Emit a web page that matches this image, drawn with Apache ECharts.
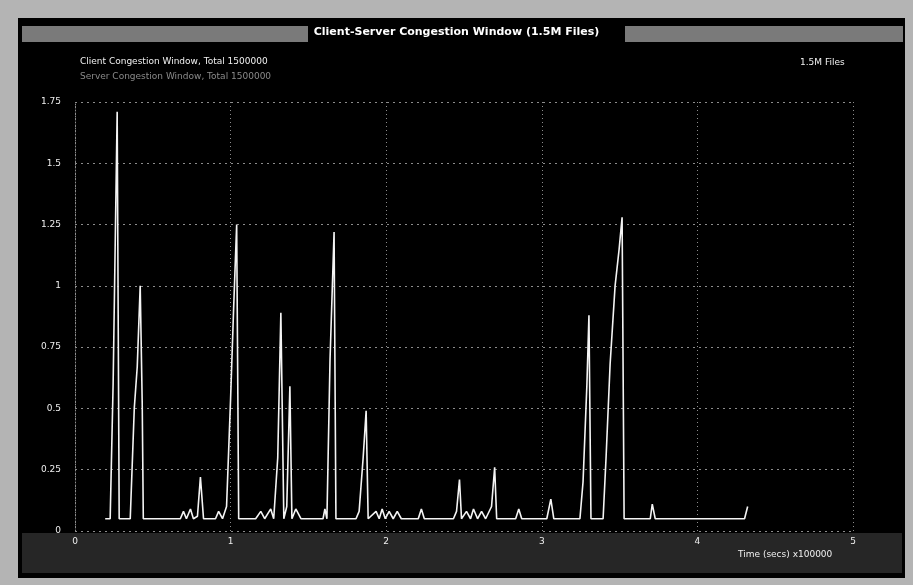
<!DOCTYPE html>
<html>
<head>
<meta charset="utf-8">
<script src="https://cdn.jsdelivr.net/npm/echarts@6/dist/echarts.min.js"></script>
<style>
html,body{margin:0;padding:0;background:#b4b4b4;}
#c{width:913px;height:585px;}
</style>
</head>
<body>
<div id="c"></div>
<script>
var titleText = 'Client-Server Congestion Window (1.5M Files)';
var legendLine1 = 'Client Congestion Window, Total 1500000';
var legendLine2 = 'Server Congestion Window, Total 1500000';
var fileLabel = '1.5M Files';
var xAxisTitle = 'Time (secs) x100000';
var xTicks = [0, 1, 2, 3, 4, 5];
var yTicks = [0, 0.25, 0.5, 0.75, 1, 1.25, 1.5, 1.75];

// time (x100000 s)
var timeValues = [
0.194,0.226,0.245,0.271,0.284,0.355,0.381,0.400,0.419,0.432,0.439,
0.677,0.697,0.716,0.742,0.761,0.787,0.806,0.826,
0.903,0.923,0.948,0.974,1.000,1.019,1.039,1.052,
1.161,1.194,1.219,1.258,1.277,1.303,1.323,1.342,1.361,1.381,1.394,1.419,1.452,
1.594,1.606,1.619,1.639,1.665,1.677,
1.806,1.826,1.852,1.871,1.884,1.935,1.955,1.974,1.994,2.019,2.045,2.071,2.097,
2.206,2.226,2.245,
2.432,2.452,2.471,2.484,2.516,2.542,2.561,2.587,2.613,2.639,2.677,2.697,2.710,
2.832,2.852,2.871,
3.032,3.058,3.077,
3.245,3.265,3.290,3.303,3.316,3.394,3.413,3.439,3.471,3.497,3.516,3.529,
3.697,3.710,3.729,
4.303,4.323
];
// congestion window
var cwndValues = [
0.05,0.05,0.60,1.71,0.05,0.05,0.50,0.67,1.00,0.52,0.05,
0.05,0.08,0.05,0.09,0.05,0.06,0.22,0.05,
0.05,0.08,0.05,0.10,0.54,0.90,1.25,0.05,
0.05,0.08,0.05,0.09,0.05,0.30,0.89,0.05,0.10,0.59,0.05,0.09,0.05,
0.05,0.09,0.05,0.70,1.22,0.05,
0.05,0.08,0.30,0.49,0.05,0.08,0.05,0.09,0.05,0.08,0.05,0.08,0.05,
0.05,0.09,0.05,
0.05,0.08,0.21,0.05,0.08,0.05,0.09,0.05,0.08,0.05,0.10,0.26,0.05,
0.05,0.09,0.05,
0.05,0.13,0.05,
0.05,0.20,0.60,0.88,0.05,0.05,0.30,0.68,1.00,1.15,1.28,0.05,
0.05,0.11,0.05,
0.05,0.10
];

var seriesData = timeValues.map(function(t, i){ return [t, cwndValues[i]]; });

var chart = echarts.init(document.getElementById('c'), null, {renderer:'canvas'});
var FONT = 'DejaVu Sans';
chart.setOption({
  backgroundColor: '#b4b4b4',
  animation: false,
  grid: {left: 75, right: 60, top: 102, bottom: 54, containLabel: false},
  graphic: [
    {type:'rect', shape:{x:18,y:18,width:887,height:560}, style:{fill:'#000'}, z:-10},
    {type:'rect', shape:{x:22,y:26,width:286,height:16}, style:{fill:'#7a7a7a'}, z:-9},
    {type:'rect', shape:{x:625,y:26,width:278,height:16}, style:{fill:'#7a7a7a'}, z:-9},
    {type:'rect', shape:{x:22,y:533,width:880,height:40}, style:{fill:'#262626'}, z:-9},
    {type:'text', left:'center', top:27, style:{text:titleText, fill:'#fff', font:'bold 11px "DejaVu Sans"'}},
    {type:'text', left:80, top:57, style:{text:legendLine1, fill:'#f0f0f0', font:'9px "DejaVu Sans"'}},
    {type:'text', left:80, top:72, style:{text:legendLine2, fill:'#8a8a8a', font:'9px "DejaVu Sans"'}},
    {type:'text', left:800, top:58, style:{text:fileLabel, fill:'#f0f0f0', font:'9px "DejaVu Sans"'}},
    {type:'text', left:738, top:550, style:{text:xAxisTitle, fill:'#f0f0f0', font:'9px "DejaVu Sans"'}}
  ],
  xAxis: {
    type:'value', min:0, max:5, interval:1,
    axisLine:{show:false}, axisTick:{show:false},
    axisLabel:{color:'#eee', fontFamily:FONT, fontSize:9, margin:6,
      formatter:function(v){ return xTicks.indexOf(v) >= 0 ? String(v) : ''; }},
    splitLine:{show:true, lineStyle:{color:'#8c8c8c', type:[1,3], width:1}}
  },
  yAxis: {
    type:'value', min:0, max:1.75, interval:0.25,
    axisLine:{show:true, lineStyle:{color:'#8c8c8c', type:[1,2]}}, axisTick:{show:false},
    axisLabel:{color:'#eee', fontFamily:FONT, fontSize:9, margin:14,
      formatter:function(v){ return yTicks.indexOf(v) >= 0 ? String(v) : ''; }},
    splitLine:{show:true, lineStyle:{color:'#8c8c8c', type:[2,4], width:1}}
  },
  series: [{
    type:'line', data: seriesData, showSymbol:false, symbol:'none',
    lineStyle:{color:'#f4f4f4', width:1.6},
    z:5
  }]
});
</script>
</body>
</html>
